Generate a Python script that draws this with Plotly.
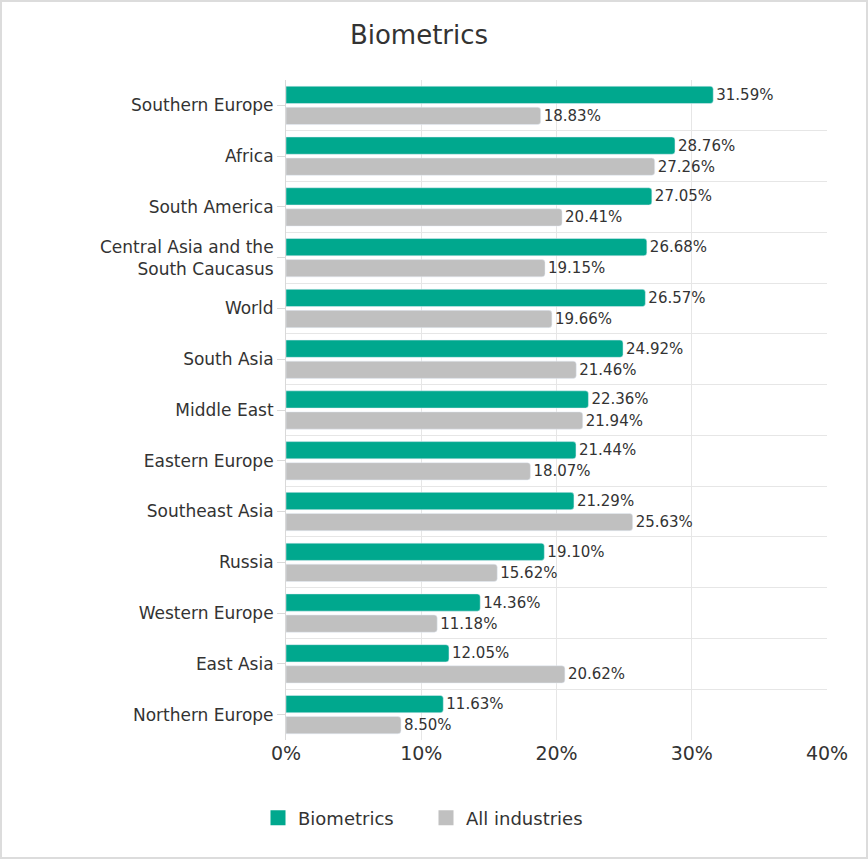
import plotly.graph_objects as go

categories = ["Southern Europe", "Africa", "South America",
              "Central Asia and the<br>South Caucasus", "World", "South Asia",
              "Middle East", "Eastern Europe", "Southeast Asia", "Russia",
              "Western Europe", "East Asia", "Northern Europe"]
biometrics = [31.59, 28.76, 27.05, 26.68, 26.57, 24.92, 22.36, 21.44, 21.29,
              19.10, 14.36, 12.05, 11.63]
all_industries = [18.83, 27.26, 20.41, 19.15, 19.66, 21.46, 21.94, 18.07,
                  25.63, 15.62, 11.18, 20.62, 8.50]
x_ticks = [0, 10, 20, 30, 40]
x_tick_labels = ["0%", "10%", "20%", "30%", "40%"]
series_names = ["Biometrics", "All industries"]
series_colors = ["#00A88E", "#C0C0C0"]

FONT = "DejaVu Sans"
TXT = "#333333"
ypos = list(range(len(categories)))

fig = go.Figure()
for name, vals, col in zip(series_names, [biometrics, all_industries], series_colors):
    fig.add_trace(go.Bar(
        y=ypos, x=vals, orientation="h", name=name, showlegend=False,
        marker=dict(color=col, cornerradius=3),
        text=[f"{v:.2f}%" for v in vals], textposition="outside",
        constraintext="none",
        textfont=dict(size=15, color=TXT, family=FONT), cliponaxis=False,
    ))
for name, col in zip(series_names, series_colors):
    fig.add_trace(go.Scatter(
        x=[None], y=[None], mode="markers", name=name,
        marker=dict(symbol="square", size=15, color=col),
    ))

W, H = 868, 859
ml, mr, mt, mb = 286, 41, 80, 119
pw = W - ml - mr
ph = H - mt - mb

fig.update_layout(
    width=W, height=H,
    margin=dict(l=ml, r=mr, t=mt, b=mb, pad=0),
    paper_bgcolor="white", plot_bgcolor="white",
    font=dict(family=FONT, color=TXT),
    title=dict(text="Biometrics", x=419 / W, xanchor="center", y=1 - 35 / H,
               yanchor="middle", font=dict(size=26, color=TXT, family=FONT)),
    barmode="group", bargap=0.17, bargroupgap=0.18,
    xaxis=dict(range=[0, 40], tickvals=x_ticks, ticktext=x_tick_labels,
               showgrid=True, gridcolor="#e6e6e6", gridwidth=1,
               zeroline=False, showline=False, ticks="",
               tickfont=dict(size=19, color=TXT, family=FONT)),
    yaxis=dict(range=[len(categories) - 0.5, -0.5], tickvals=ypos,
               ticktext=categories, showgrid=False, zeroline=False,
               showline=True, linecolor="#d9d9d9", linewidth=1,
               ticks="outside", ticklen=8, tickcolor="#d9d9d9", ticklabelstandoff=0,
               minor=dict(tick0=0.5, dtick=1, showgrid=True, gridcolor="#e6e6e6",
                          ticks=""),
               tickfont=dict(size=17, color=TXT, family=FONT)),
    legend=dict(orientation="h", x=(258 - ml) / pw, xanchor="left",
                y=-(818 - mt - ph) / ph, yanchor="middle",
                font=dict(size=18, color=TXT, family=FONT),
                entrywidth=123, entrywidthmode="pixels",
                traceorder="normal"),
    shapes=[dict(type="rect", xref="paper", yref="paper",
                 x0=-(ml - 1) / pw, x1=1 + (mr - 1) / pw,
                 y0=-(mb - 1) / ph, y1=1 + (mt - 1) / ph,
                 line=dict(color="#dcdcdc", width=2), fillcolor="rgba(0,0,0,0)",
                 layer="below")],
)
fig.write_html("out.html", config={"displayModeBar": False},
               post_script="document.body.style.margin='0';")
